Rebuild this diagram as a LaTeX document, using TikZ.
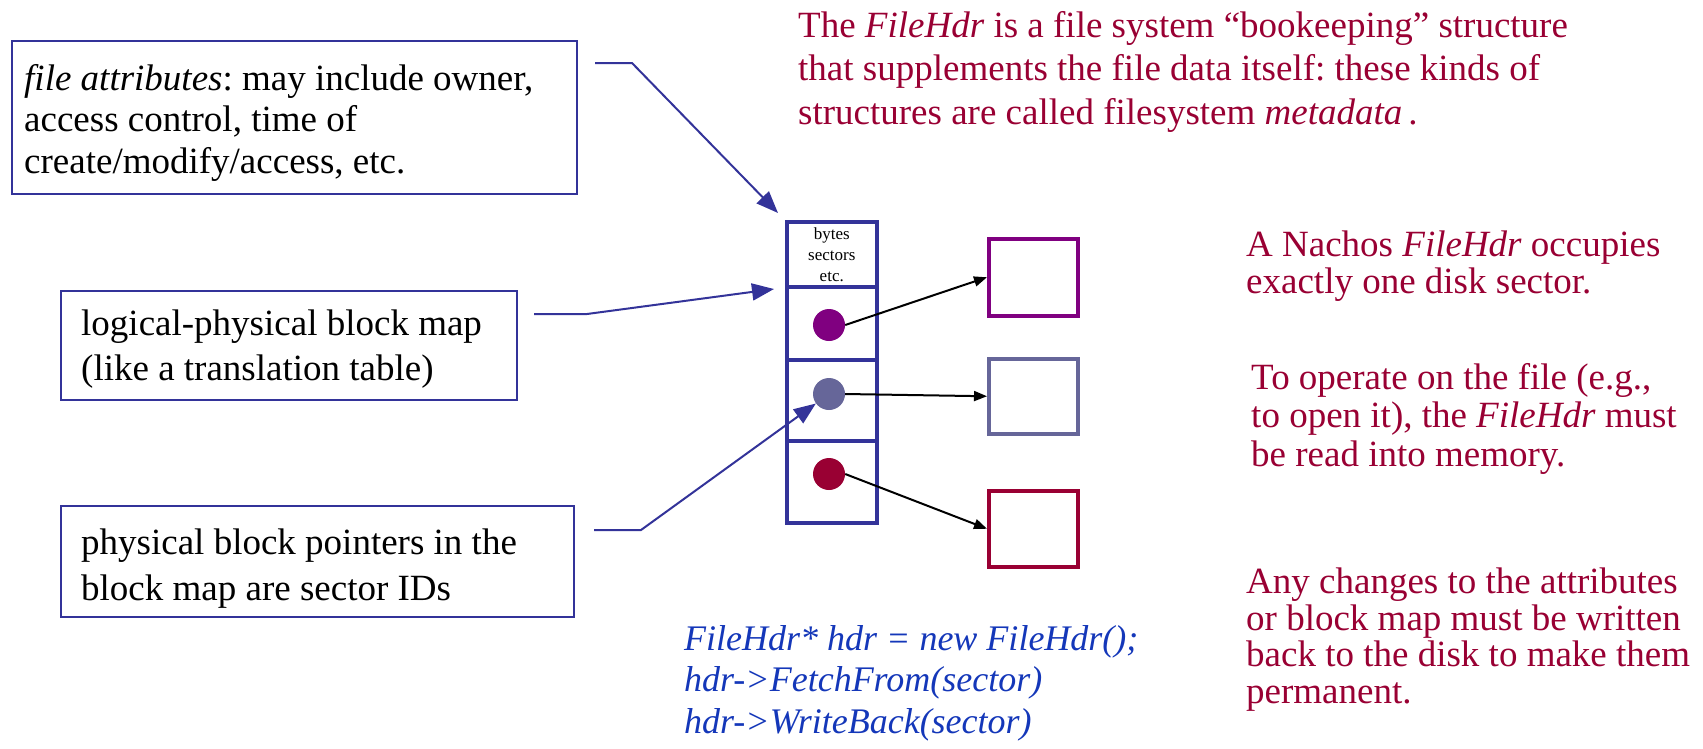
\documentclass[tikz,border=0pt]{standalone}
\usepackage{fontspec}
\setmainfont{Liberation Serif}
\usetikzlibrary{arrows.meta}
\definecolor{frame}{RGB}{51,51,153}
\definecolor{crimson}{RGB}{153,0,51}
\definecolor{plum}{RGB}{128,0,128}
\definecolor{slate}{RGB}{102,102,153}
\definecolor{codeblue}{RGB}{20,55,185}

\begin{document}
\frenchspacing
\begin{tikzpicture}[x=1pt,y=-1pt,
  notebox/.style={draw=frame, line width=2pt, rectangle, inner sep=0pt, anchor=north west},
  notetext/.style={anchor=base west, align=left, inner sep=0pt},
  cell/.style={draw=frame, line width=3.5pt, minimum width=90pt, anchor=north west,
    inner sep=0pt, align=center, font=\fontsize{17}{21}\selectfont},
  ptr/.style={circle, inner sep=0pt, minimum size=32pt},
  blk/.style={draw, line width=3.5pt, minimum width=89pt, anchor=north west, inner sep=0pt},
  leader/.style={draw=frame, line width=2pt, -{Triangle[length=22pt,width=17pt]}},
  link/.style={line width=2pt, -{Triangle[length=13pt,width=10pt]}},
  prose/.style={crimson, anchor=base west, align=left, inner sep=0pt},
]
\useasboundingbox (0,0) rectangle (1703,748);

% explanatory boxes on the left
\node[notebox, minimum width=565pt, minimum height=153pt] (attr) at (11,40) {};
\node[notebox, minimum width=456pt, minimum height=109pt] (bmap) at (60,290) {};
\node[notebox, minimum width=513pt, minimum height=111pt] (ptrs) at (60,505) {};
% their texts (anchored at the baseline of the last line)
\node[notetext, font=\fontsize{37}{41.5}\selectfont] (attrtext) at (24,173)
  {\textit{file attributes}: may include owner,\\access control, time of\\create/modify/access, etc.};
\node[notetext, font=\fontsize{37}{45}\selectfont] (bmaptext) at (81,380)
  {logical-physical block map\\(like a translation table)};
\node[notetext, font=\fontsize{37}{46}\selectfont] (ptrstext) at (81,600)
  {physical block pointers in the\\block map are sector IDs};

% the file header column
\node[cell, minimum height=65pt] (c0) at (785,220) {bytes\\sectors\\etc.};
\node[cell, minimum height=73pt] (c1) at (785,285) {};
\node[cell, minimum height=81pt] (c2) at (785,358) {};
\node[cell, minimum height=82pt] (c3) at (785,439) {};

% block pointers
\node[ptr, fill=plum]    (d1) at (829,325) {};
\node[ptr, fill=slate]   (d2) at (829,394) {};
\node[ptr, fill=crimson] (d3) at (829,474) {};

% data blocks
\node[blk, draw=plum,    minimum height=77pt] (b1) at (987,237) {};
\node[blk, draw=slate,   minimum height=75pt] (b2) at (987,357) {};
\node[blk, draw=crimson, minimum height=76pt] (b3) at (987,489) {};

\draw[link] (d1.east) -- (b1.west);
\draw[link] (d2.east) -- (b2.west);
\draw[link] (d3.east) -- (b3.west);

% leader lines from the boxes
\coordinate (l1a) at (595,63);  \coordinate (l1b) at (632,63);
\coordinate (l2a) at (534,314); \coordinate (l2b) at (587,314);
\coordinate (l3a) at (594,530); \coordinate (l3b) at (641,530);
\draw[leader] (l1a) -- (l1b) -- ([shift={(-7,-7)}]c0.north west);
\draw[leader] (l2a) -- (l2b) -- ([shift={(-11,4)}]c1.north west);
\draw[leader] (l3a) -- (l3b) -- (d2);

% notes (anchored at the baseline of the last line)
\node[prose, font=\fontsize{37}{43.5}\selectfont] (about) at (798,124)
  {The \textit{FileHdr} is a file system “bookeeping” structure\\that supplements the file data itself: these kinds of\\structures are called filesystem \textit{metadata}\,.};
\node[prose, font=\fontsize{37}{37}\selectfont] (size) at (1246,293)
  {A Nachos \textit{FileHdr} occupies\\exactly one disk sector.};
\node[prose, font=\fontsize{37}{38.5}\selectfont] (load) at (1251,466)
  {To operate on the file (e.g.,\\to open it), the \textit{FileHdr} must\\be read into memory.};
\node[prose, font=\fontsize{37}{36.5}\selectfont] (save) at (1246,703)
  {Any changes to the attributes\\or block map must be written\\back to the disk to make them\\permanent.};
\node[prose, text=codeblue, font=\fontsize{36}{41.5}\selectfont\itshape] (code) at (684,733)
  {FileHdr* hdr = new FileHdr();\\hdr->FetchFrom(sector)\\hdr->WriteBack(sector)};
\end{tikzpicture}
\end{document}
